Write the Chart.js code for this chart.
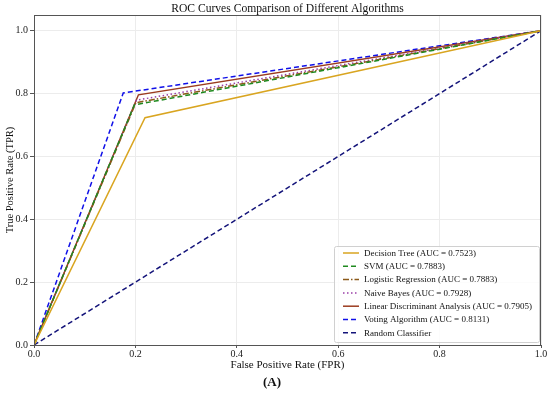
<!DOCTYPE html>
<html>
<head>
<meta charset="utf-8">
<script src="https://cdn.jsdelivr.net/npm/chart.js@4.4.1/dist/chart.umd.min.js"></script>
<style>
  html, body { margin: 0; padding: 0; background: #ffffff; }
  #grafico { display: block; }
</style>
</head>
<body>
<canvas id="grafico" width="550" height="394"></canvas>
<script>
// ---------------------------------------------------------
// Dados (ponto de corte de cada curva ROC)
// ---------------------------------------------------------
const modelos = ['Decision Tree', 'SVM', 'Logistic Regression', 'Naive Bayes',
                 'Linear Discriminant Analysis', 'Voting Algorithm'];
const aucs = ['0.7523', '0.7883', '0.7883', '0.7928', '0.7905', '0.8131'];
const fprCorte = [0.219, 0.198, 0.201, 0.202, 0.206, 0.176];
const tprCorte = [0.723, 0.764, 0.771, 0.779, 0.796, 0.802];
const aleatorioX = [0, 1];
const aleatorioY = [0, 1];
const ticksEixo = [0, 0.2, 0.4, 0.6, 0.8, 1.0];

// estilo de cada curva (cor, tracejado)
const cores = ['#d9a520', '#1f8a1f', '#8b5a1a', '#9a3fa8', '#9b3b1f', '#1010e8'];
const tracos = [[], [5, 3], [6, 2, 1.5, 2], [1.5, 2.5], [], [5, 3]];

const FONTE = '"Liberation Serif", "Times New Roman", serif';

const datasets = modelos.map((nome, i) => ({
    label: `${nome} (AUC = ${aucs[i]})`,
    data: [{ x: 0, y: 0 }, { x: fprCorte[i], y: tprCorte[i] }, { x: 1, y: 1 }],
    borderColor: cores[i],
    borderDash: tracos[i],
    borderWidth: 1.5,
}));
datasets.push({
    label: 'Random Classifier',
    data: aleatorioX.map((x, i) => ({ x: x, y: aleatorioY[i] })),
    borderColor: '#14147a',
    borderDash: [5, 3],
    borderWidth: 1.5,
});

// Plugin: moldura, títulos e legenda dentro do gráfico
const extras = {
    id: 'extras',
    afterDraw(chart) {
        const ctx = chart.ctx;
        const a = chart.chartArea;
        ctx.save();
        // moldura
        ctx.strokeStyle = '#555';
        ctx.lineWidth = 1;
        ctx.strokeRect(a.left + 0.5, a.top + 0.5, a.right - a.left - 1, a.bottom - a.top);

        const cx = (a.left + a.right) / 2;
        ctx.fillStyle = '#111';
        ctx.textAlign = 'center';
        ctx.textBaseline = 'middle';
        ctx.font = `11.6px ${FONTE}`;
        ctx.fillText('ROC Curves Comparison of Different Algorithms', cx, 9);
        ctx.font = `11px ${FONTE}`;
        ctx.fillText('False Positive Rate (FPR)', cx, 365);
        ctx.font = `bold 13px ${FONTE}`;
        ctx.fillText('(A)', 272, 383);

        // legenda
        const lx = 334, ly = 246, lw = 205, lh = 96;
        ctx.fillStyle = 'rgba(255,255,255,0.85)';
        ctx.strokeStyle = '#d0d0d0';
        ctx.beginPath();
        ctx.roundRect(lx + 0.5, ly + 0.5, lw, lh, 2);
        ctx.fill();
        ctx.stroke();
        ctx.textAlign = 'left';
        ctx.font = `9px ${FONTE}`;
        chart.data.datasets.forEach((ds, i) => {
            const y = 253 + i * 13.3;
            ctx.strokeStyle = ds.borderColor;
            ctx.lineWidth = 1.5;
            ctx.setLineDash(ds.borderDash || []);
            ctx.beginPath();
            ctx.moveTo(343, y);
            ctx.lineTo(359, y);
            ctx.stroke();
            ctx.setLineDash([]);
            ctx.fillStyle = '#111';
            ctx.fillText(ds.label, 364, y + 0.5);
        });
        ctx.restore();
    }
};

new Chart(document.getElementById('grafico'), {
    type: 'line',
    data: { datasets: datasets },
    options: {
        responsive: false,
        animation: false,
        layout: { padding: { top: 15, right: 9, left: 0, bottom: 0 } },
        elements: { point: { radius: 0 }, line: { tension: 0 } },
        plugins: { legend: { display: false }, tooltip: { enabled: false } },
        scales: {
            x: {
                type: 'linear', min: 0, max: 1,
                afterFit(scale) { scale.height = 49; },
                afterBuildTicks(scale) { scale.ticks = ticksEixo.map(v => ({ value: v })); },
                border: { color: '#555' },
                grid: { color: '#ececec', tickColor: '#555', tickLength: 3 },
                ticks: {
                    padding: 0, color: '#222', maxRotation: 0,
                    font: { family: FONTE, size: 10 },
                    callback: v => v.toFixed(1)
                }
            },
            y: {
                type: 'linear', min: 0, max: 1.05,
                afterFit(scale) { scale.width = 34; },
                afterBuildTicks(scale) { scale.ticks = ticksEixo.map(v => ({ value: v })); },
                border: { color: '#555' },
                grid: { color: '#ececec', tickColor: '#555', tickLength: 4 },
                title: {
                    display: true, text: 'True Positive Rate (TPR)', color: '#111',
                    font: { family: FONTE, size: 10.5 }, padding: { top: 4, bottom: 0 }
                },
                ticks: {
                    padding: 2, color: '#222',
                    font: { family: FONTE, size: 10 },
                    callback: v => v.toFixed(1)
                }
            }
        }
    },
    plugins: [extras]
});
</script>
</body>
</html>
